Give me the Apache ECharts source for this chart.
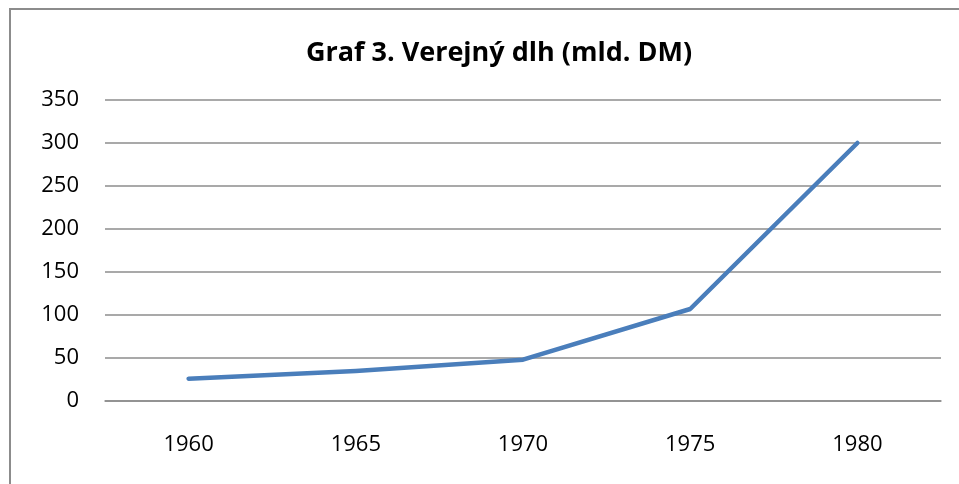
<!DOCTYPE html>
<html>
<head>
<meta charset="utf-8">
<script src="https://cdn.jsdelivr.net/npm/echarts@6/dist/echarts.min.js"></script>
<style>
  html, body { margin: 0; padding: 0; background: #fff; overflow: hidden; }
  #frame {
    position: absolute; left: 9px; top: 8px; width: 980px; height: 500px;
    border: 2px solid #8c8c8c; box-sizing: border-box;
  }
  #chart { position: absolute; left: 0; top: 0; width: 959px; height: 484px; }
</style>
</head>
<body>
<div id="frame"></div>
<div id="chart"></div>
<script>
const years = ["1960", "1965", "1970", "1975", "1980"];
const debt = [26, 35, 48, 107, 300];

const font = "'Open Sans', 'Noto Sans', sans-serif";
const chart = echarts.init(document.querySelector("#chart"));

chart.setOption({
  animation: false,
  title: {
    text: "Graf 3. Verejný dlh (mld. DM)",
    left: 494,
    textAlign: "center",
    top: 35,
    textStyle: { fontFamily: font, fontSize: 27, fontWeight: 700, color: "#000" },
  },
  grid: { left: 105, right: 18, top: 100, bottom: 83, containLabel: false },
  xAxis: {
    type: "category",
    data: years,
    boundaryGap: true,
    axisLine: { show: true, lineStyle: { color: "#8c8c8c", width: 1.5 } },
    axisTick: { show: false },
    axisLabel: { color: "#000", fontFamily: font, fontSize: 22, margin: 33 },
  },
  yAxis: {
    type: "value",
    min: 0,
    max: 350,
    interval: 50,
    axisLine: { show: false },
    axisTick: { show: false },
    axisLabel: { color: "#000", fontFamily: font, fontSize: 22, margin: 26 },
    splitLine: { lineStyle: { color: "#8c8c8c", width: 1.5 } },
  },
  series: [
    {
      type: "line",
      data: debt,
      symbol: "none",
      lineStyle: { color: "#4a7ebb", width: 4.5, cap: "round", join: "round" },
    },
  ],
});
</script>
</body>
</html>
